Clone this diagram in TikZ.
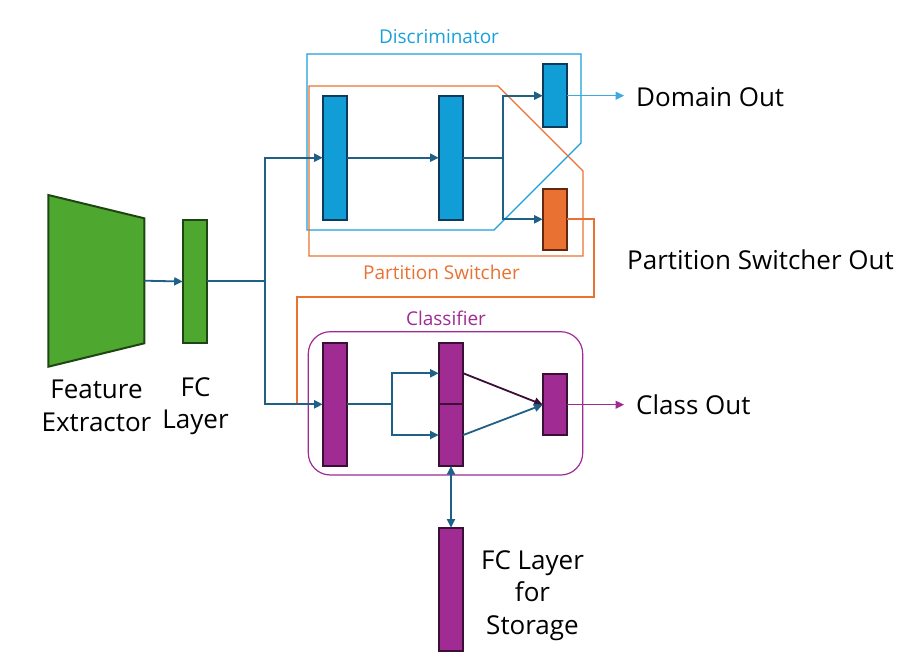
\documentclass[tikz,border=0pt]{standalone}
\usepackage{fontspec}
\setmainfont{Open Sans}
\usetikzlibrary{arrows.meta}
\definecolor{arrblue}{RGB}{31,96,135}
\definecolor{boxblue}{RGB}{17,158,214}
\definecolor{boxblueD}{RGB}{12,58,90}
\definecolor{grn}{RGB}{78,167,46}
\definecolor{grnD}{RGB}{30,70,20}
\definecolor{purp}{RGB}{160,43,147}
\definecolor{purpD}{RGB}{60,15,55}
\definecolor{orng}{RGB}{233,113,50}
\definecolor{orngD}{RGB}{100,40,15}
\definecolor{discol}{RGB}{26,160,218}
\definecolor{domcol}{RGB}{60,170,220}
\tikzset{
  layer/.style={draw, line width=2pt, minimum width=24.6pt, inner sep=0pt, outer sep=0pt},
  bluebox/.style={layer, fill=boxblue, draw=boxblueD},
  grnbox/.style={layer, fill=grn, draw=grnD},
  purbox/.style={layer, fill=purp, draw=purpD},
  orbox/.style={layer, fill=orng, draw=orngD},
  arr/.style={draw=arrblue, line width=1.8pt, -{Triangle[length=8.5pt,width=8pt]}},
  conn/.style={draw=arrblue, line width=1.8pt},
  bigtxt/.style={font=\fontsize{26}{32.5}\selectfont, text=black, inner sep=0pt, align=center},
  grptxt/.style={font=\fontsize{19}{23}\selectfont, inner sep=0pt},
}
\begin{document}
\begin{tikzpicture}[x=1pt,y=-1pt]
\useasboundingbox (0,0) rectangle (912,667);
% group outlines
\draw[discol, line width=1.2pt] (307,54) -- (581,54) -- (581,143) -- (494,230) -- (307,230) -- cycle;
\draw[orng, line width=1.2pt] (309,86) -- (498,86) -- (583,171) -- (583,256) -- (309,256) -- cycle;
\draw[purp, line width=1.2pt, rounded corners=22pt] (308.3,331.7) rectangle (582.7,475);
\node[grptxt, text=discol] (dlab) at (439,37) {Discriminator};
\node[grptxt, text=orng] (plab) at (441.5,272) {Partition Switcher};
\node[grptxt, text=purp] (clab) at (446,318) {Classifier};
% feature extractor
\draw[grnD, fill=grn, line width=2pt] (48.3,195) -- (144.3,218.3) -- (144.3,343.3) -- (48.3,366.7) -- cycle;
\coordinate (fe) at (144.3,280.7);
\node[grnbox, minimum height=123.6pt] (fc) at (195,281.5) {};
% discriminator layers
\node[bluebox, minimum height=124.3pt] (b1) at (335,157.7) {};
\node[bluebox, minimum height=124.3pt] (b2) at (451,157.7) {};
\node[bluebox, minimum height=62.7pt] (b3) at (555,95.7) {};
\node[orbox, minimum height=61.3pt] (o1) at (555,219.3) {};
% classifier layers
\node[purbox, minimum height=123.3pt] (c1) at (335,404.3) {};
\node[purbox, minimum height=61.3pt] (c2) at (451,373.3) {};
\node[purbox, minimum height=62pt] (c3) at (451,435) {};
\node[purbox, minimum height=61.3pt] (c4) at (555,404.7) {};
\node[purbox, minimum height=123.3pt] (st) at (451,589.3) {};
% junctions
\coordinate (j1) at (265,280.7);
\coordinate (j2) at (503.3,157.7);
\coordinate (j3) at (392.3,404.3);
\coordinate (domend) at (624,95.7);
\coordinate (clsend) at (624,404.7);
\coordinate (psend) at (297,404.3);
% partition switcher output line
\draw[orng, line width=2.2pt] (o1.east) -- (594,219.3) -- (594,296.7) -- (297,296.7) -- (psend);
% connectors
\draw[arr] (fe) -- (fc.west);
\draw[conn] (fc.east |- j1) -- (j1);
\draw[arr] (j1) |- (b1.west);
\draw[arr] (j1) |- (c1.west);
\draw[arr] (b1.east) -- (b2.west);
\draw[conn] (b2.east) -- (j2);
\draw[arr] (j2) |- (b3.west);
\draw[arr] (j2) |- (o1.west);
\draw[arr, draw=domcol, line width=1.4pt] (b3.east) -- (domend);
\draw[conn] (c1.east) -- (j3);
\draw[arr] (j3) |- (c2.west);
\draw[arr] (j3) |- (c3.west);
\draw[arr, draw=purpD] (c2.east) -- (c4.west);
\draw[arr] (c3.east) -- (c4.west);
\draw[arr, draw=purp, line width=1.4pt] (c4.east) -- (clsend);
\draw[arr, {Triangle[length=8.5pt,width=8pt]}-{Triangle[length=8.5pt,width=8pt]}] (c3.south) -- (st.north);
% texts
\node[bigtxt, anchor=west] (domtxt) at (636,97) {Domain Out};
\node[bigtxt, anchor=west] (pstxt) at (627,260) {Partition Switcher Out};
\node[bigtxt, anchor=west] (clstxt) at (636,405) {Class Out};
\node[bigtxt] (fetxt) at (96.5,406) {Feature\\Extractor};
\node[bigtxt] (fctxt) at (195.5,406) {FC\\Layer};
\node[bigtxt] (sttxt) at (532.5,595.5) {FC Layer\\for\\Storage};
\end{tikzpicture}
\end{document}
